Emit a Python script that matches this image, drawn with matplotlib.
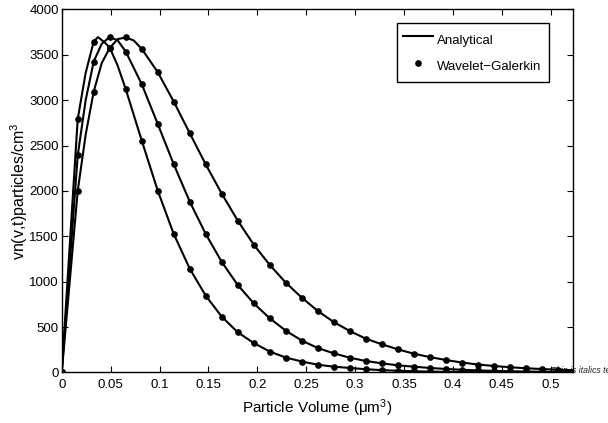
import numpy as np
import matplotlib
matplotlib.use("Agg")
import matplotlib.pyplot as plt
from matplotlib.lines import Line2D

plt.rcParams['font.family'] = ['Liberation Sans', 'DejaVu Sans']
plt.rcParams['mathtext.default'] = 'regular'

# particle volume grid (um^3)
volume = [0.0, 0.01636, 0.03272, 0.04908, 0.06544, 0.0818, 0.09816, 0.11452,
          0.13088, 0.14724, 0.1636, 0.17996, 0.19632, 0.21268, 0.22904, 0.2454,
          0.26176, 0.27812, 0.29448, 0.31084, 0.3272, 0.34356, 0.35992, 0.37628,
          0.39264, 0.409, 0.42536, 0.44172, 0.45808, 0.47444, 0.4908, 0.50716, 0.52352]

# three time levels of vn(v,t) (Wavelet-Galerkin points)
curve_a = [0, 2790, 3645, 3579, 3121, 2555, 2003, 1526, 1144, 846, 615, 443, 325,
           231, 165, 121, 86, 64, 50, 36, 26, 19, 14, 10, 7, 5, 4, 3, 2, 1.5, 1, 0.7, 0.5]
curve_b = [0, 2390, 3425, 3695, 3535, 3176, 2738, 2294, 1882, 1526, 1218, 964, 762,
           597, 461, 352, 270, 211, 163, 127, 101, 79, 64, 50, 39, 30, 23, 18, 14, 11, 8, 6, 5]
curve_c = [0, 2000, 3094, 3575, 3690, 3565, 3308, 2984, 2636, 2292, 1970, 1673, 1408,
           1185, 990, 825, 678, 556, 457, 373, 311, 256, 207, 170, 138, 110, 88, 72, 58, 47, 38, 31, 25]

# extra analytical points read between grid nodes near the peaks
extra_v_a = [0.0245, 0.0371, 0.0440, 0.0572]
extra_n_a = [3300, 3694, 3634, 3380]
extra_v_b = [0.0245, 0.0409, 0.0573]
extra_n_b = [3000, 3620, 3657]
extra_v_c = [0.0245, 0.0409, 0.0573, 0.0736]
extra_n_c = [2620, 3407, 3672, 3657]

fig = plt.figure(figsize=(6.08, 4.23), dpi=100)
ax = fig.add_axes([0.1015, 0.1194, 0.8405, 0.8586])

for curve, ev, en in zip([curve_a, curve_b, curve_c],
                         [extra_v_a, extra_v_b, extra_v_c],
                         [extra_n_a, extra_n_b, extra_n_c]):
    lv = np.array(volume + ev)
    ln = np.array(curve + en)
    order = np.argsort(lv)
    ax.plot(lv[order], ln[order], color='black', lw=1.5, zorder=3)
    ax.plot(volume[:-1], curve[:-1], linestyle='none', marker='o', ms=3.8,
            color='black', zorder=4)

ax.set_xlim(0, 0.5225)
ax.set_ylim(0, 4000)
ax.set_xticks(np.arange(0, 0.5001, 0.05))
ax.set_xticklabels(['0', '0.05', '0.1', '0.15', '0.2', '0.25', '0.3', '0.35',
                    '0.4', '0.45', '0.5'])
ax.set_yticks(np.arange(0, 4001, 500))
ax.tick_params(direction='in', length=4, width=0.8, top=True, right=True,
               labelsize=9.5, colors='black')
ax.tick_params(axis='x', pad=5)
ax.tick_params(axis='y', pad=2)
for s in ax.spines.values():
    s.set_linewidth(1.0)

ax.set_xlabel('Particle Volume (\u03bcm$^3$)', fontsize=11, labelpad=4)
ax.set_ylabel('vn(v,t)particles/cm$^3$', fontsize=11.5)
ax.yaxis.set_label_coords(-0.062, 0.5)

ax.text(0.5003, 18, 'This is italics text', fontsize=6.3, style='italic',
        va='center', ha='left', zorder=1, color='#222222')

handles = [Line2D([], [], color='black', lw=1.5),
           Line2D([], [], color='black', linestyle='none', marker='o', ms=3.8)]
leg = ax.legend(handles, ['Analytical', 'Wavelet\u2212Galerkin'],
                loc='upper left', bbox_to_anchor=(0.6556, 0.764, 0.2984, 0.1975),
                mode='expand', borderaxespad=0, fontsize=9.5, frameon=True,
                fancybox=False, edgecolor='black', framealpha=1,
                handlelength=2.27, handleheight=2.0, handletextpad=0.3,
                labelspacing=0.45, borderpad=0.45)
leg.get_frame().set_linewidth(1.0)

fig.savefig('out.png', dpi=100)
